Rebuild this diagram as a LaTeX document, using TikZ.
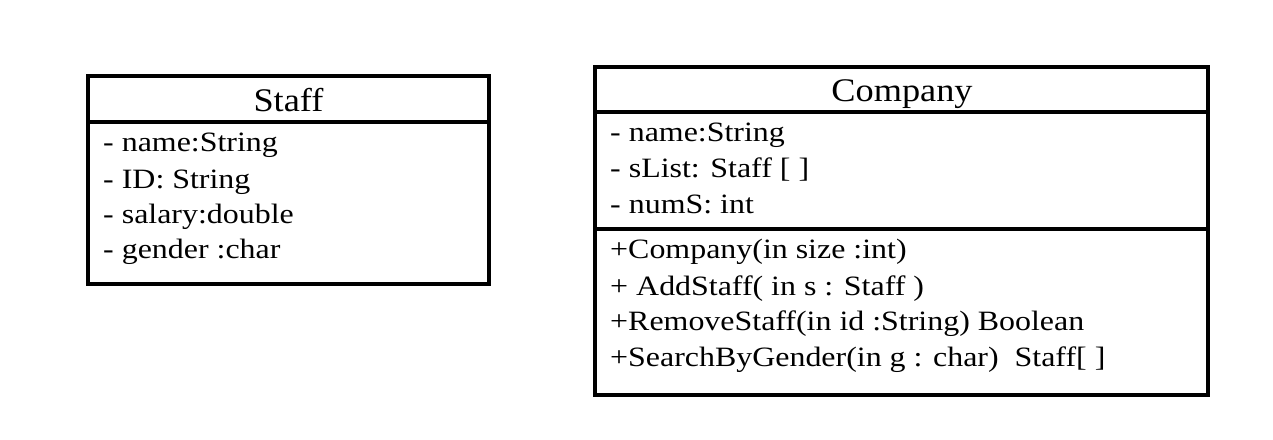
\documentclass[tikz,border=0pt]{standalone}
\usepackage{fontspec}
\setmainfont{Liberation Serif}
\begin{document}
\begin{tikzpicture}[x=1pt,y=-1pt,
  box/.style={draw=black,line width=3.2pt},
  sline/.style={draw=black,line width=3.2pt},
  attr/.style={anchor=base west,inner sep=0pt,font=\fontsize{28}{30}\selectfont,xscale=1.14},
  title/.style={anchor=base,inner sep=0pt,font=\fontsize{33}{35}\selectfont,xscale=1.1}]
\useasboundingbox (0,0) rectangle (1273,439);
% Staff
\draw[box] (88,76) rectangle (489,284);
\coordinate (s1) at (88,122);
\coordinate (s2) at (489,122);
\draw[sline] (s1) -- (s2);
\node[title] (staffT) at (288.5,111.5) {Staff};
\node[attr] (sa1) at (103,151.5) {- name:String};
\node[attr] (sa2) at (103,188) {- ID: String};
\node[attr] (sa3) at (103,223) {- salary:double};
\node[attr] (sa4) at (103,258.5) {- gender :char};
% Company
\draw[box] (595,67) rectangle (1208,395);
\coordinate (c1) at (595,112);
\coordinate (c2) at (1208,112);
\coordinate (c3) at (595,229);
\coordinate (c4) at (1208,229);
\draw[sline] (c1) -- (c2);
\draw[sline] (c3) -- (c4);
\node[title] (compT) at (902,101.5) {Company};
\node[attr] (ca1) at (610,141.5) {- name:String};
\node[attr] (ca2) at (610,177) {- sList: Staff [ ]};
\node[attr] (ca3) at (610,213) {- numS: int};
\node[attr] (cm1) at (610,258) {+Company(in size :int)};
\node[attr] (cm2) at (610,295) {+ AddStaff( in s : Staff )};
\node[attr] (cm3) at (610,330.5) {+RemoveStaff(in id :String) Boolean};
\node[attr] (cm4) at (610,366.5) {+SearchByGender(in g : char)~~Staff[ ]};
\end{tikzpicture}
\end{document}
